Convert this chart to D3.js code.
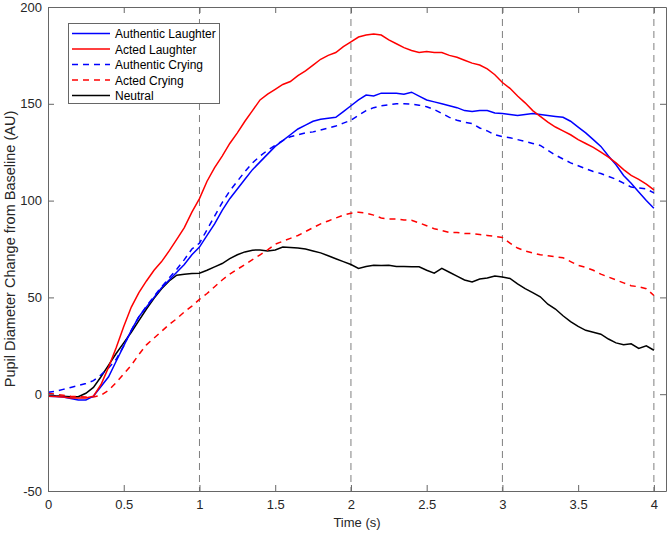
<!DOCTYPE html>
<html>
<head>
<meta charset="utf-8">
<script src="https://cdn.jsdelivr.net/npm/d3@7"></script>
<style>
  body { margin: 0; background: #fff; }
  text { font-family: "Liberation Sans", Arial, sans-serif; }
</style>
</head>
<body>
<div id="chart-area"></div>
<script>
// time base, 0 to 4 s in 0.05 s steps
var times = d3.range(0, 81).map(function(i){ return +(i * 0.05).toFixed(2); });

var authLaughter = [-1, -1.2, -1.5, -2.2, -3, -3, -1, 4, 9, 17,
  25, 33, 40, 45, 50, 55, 59, 63, 67, 72,
  76, 82, 88, 95, 101, 106, 111, 116, 120, 124,
  128, 131, 134, 137, 139, 141, 142, 142.5, 143, 146,
  149, 152, 154.5, 154, 155.5, 155.5, 155.5, 155, 156, 154,
  152, 151, 150, 149, 148, 146.5, 146, 146.5, 146.5, 145.3,
  145, 144.5, 144, 144.5, 145, 144.5, 144, 143.5, 143, 141,
  138, 135, 131.5, 128, 123, 118.5, 113, 109, 104.5, 100, 96];

var actedLaughter = [-1, -1.2, -1.5, -2, -2, -2, -1, 5, 14, 24,
  35, 45, 52.5, 58.5, 64, 68.5, 74, 80, 86, 94,
  101, 110, 117, 123, 129.5, 135, 141, 146.5, 152, 155,
  157.5, 160, 161.5, 164.5, 167, 170, 173, 175, 176.5, 179.5,
  182, 184.5, 185.5, 186, 185.5, 183, 181, 179, 177.5, 176.5,
  177, 176.5, 176.5, 175, 174, 172.5, 171, 170, 168, 165,
  161, 158, 154, 150.5, 146.5, 143.5, 140.5, 138, 136, 134,
  131.5, 129.5, 127.5, 125, 122.5, 119.5, 116, 113, 111, 108.5, 105.5];

var authCrying = [1, 1.5, 2.5, 3.5, 4.5, 5.5, 7, 10, 13.5, 18,
  25, 33, 40, 45.5, 50.5, 55.5, 60, 64.5, 69.5, 75,
  78, 85, 92, 99, 105, 110, 115, 119.5, 123, 126,
  128.6, 131, 133, 134, 135, 135.5, 136.5, 137.5, 138.5, 140,
  141.5, 144, 146.5, 148, 149, 149.5, 150, 150, 149.8, 149.3,
  148.5, 147, 145, 143, 141.5, 140.5, 139.8, 137.5, 136, 134,
  133, 132.5, 131.5, 130.5, 129.5, 128.5, 126, 123.5, 121.5, 119.5,
  118, 116.5, 115, 114, 112.5, 111, 109, 107, 106.5, 106, 104];

var actedCrying = [0.5, 0, -0.5, -1, -1.2, -1.5, -1.4, -0.5, 2, 6,
  10.5, 15, 20.5, 25.5, 29, 32.5, 36, 39, 42.5, 45.5,
  49, 52, 55.5, 59, 62, 64.5, 67, 69.5, 72, 74.5,
  77.5, 79, 80.5, 82, 84, 86, 88, 89.5, 91, 92.5,
  93.5, 94, 93.5, 92.5, 91, 90.5, 90.5, 90, 89.8, 88.5,
  87, 85.5, 84.5, 83.5, 83.5, 83, 83, 82.5, 82, 81.5,
  81, 78, 75.5, 74, 73, 72, 71.5, 71, 70.5, 68.5,
  66.5, 65.5, 64, 62, 60.5, 59, 57.5, 56, 55.5, 54.5, 51];

var neutral = [-0.5, -0.8, -1, -1.3, -1.3, 0.5, 3.5, 9, 15, 21,
  26.5, 32, 38, 44, 49.5, 54.5, 58.5, 61.5, 62, 62.3,
  62.5, 64, 65.8, 67.5, 70, 72, 73.5, 74.4, 74.5, 74,
  74.5, 76, 75.8, 75.5, 75, 74, 73, 71.5, 70, 68.5,
  67, 65, 66, 66.6, 66.5, 66.6, 66, 66, 65.8, 65.8,
  64, 62.5, 65, 63, 61, 59, 58, 59.5, 60, 61,
  60.5, 59.8, 57, 54.5, 52.5, 50.3, 46.5, 44, 40.5, 37.5,
  35, 33, 32, 31, 28.5, 26.5, 25.5, 26, 23.6, 25, 22.7];

var seriesNames = ["Authentic Laughter", "Acted Laughter", "Authentic Crying", "Acted Crying", "Neutral"];
var seriesValues = [authLaughter, actedLaughter, authCrying, actedCrying, neutral];
var seriesColors = ["#0000ff", "#ff0000", "#0000ff", "#ff0000", "#000000"];
var seriesDashed = [false, false, true, true, false];

var xTicks = [0, 0.5, 1, 1.5, 2, 2.5, 3, 3.5, 4];
var yTicks = [-50, 0, 50, 100, 150, 200];
var markerTimes = [1, 2, 3, 4];

var width = 668, height = 535;
var plotLeft = 48, plotRight = 666, plotTop = 7, plotBottom = 491;

var svg = d3.select("#chart-area").append("svg")
    .attr("width", width)
    .attr("height", height);

var x = d3.scaleLinear().domain([0, 4.08]).range([plotLeft, plotRight]);
var y = d3.scaleLinear().domain([-50, 200]).range([plotBottom, plotTop]);

// vertical dashed markers
svg.selectAll(".marker")
    .data(markerTimes)
    .enter()
    .append("line")
        .attr("x1", function(d){ return x(d); })
        .attr("x2", function(d){ return x(d); })
        .attr("y1", plotTop)
        .attr("y2", plotBottom)
        .attr("stroke", "#7f7f7f")
        .attr("stroke-width", 1)
        .attr("stroke-dasharray", "7,5");

// data lines
var line = d3.line()
    .x(function(d, i){ return x(times[i]); })
    .y(function(d){ return y(d); });

var drawOrder = [4, 3, 2, 0, 1];
drawOrder.forEach(function(k){
    svg.append("path")
        .datum(seriesValues[k])
        .attr("d", line)
        .attr("fill", "none")
        .attr("stroke", seriesColors[k])
        .attr("stroke-width", 1.5)
        .attr("stroke-dasharray", seriesDashed[k] ? "6,5" : null);
});

// axes, ticks pointing inward, box on all sides
var axisColor = "#666666";
var bottomAxis = d3.axisBottom(x).tickValues(xTicks).tickSizeInner(-6).tickSizeOuter(0)
    .tickFormat(function(d){ return d; }).tickPadding(9);
var topAxis = d3.axisTop(x).tickValues(xTicks).tickSizeInner(-6).tickSizeOuter(0).tickFormat("");
var leftAxis = d3.axisLeft(y).tickValues(yTicks).tickSizeInner(-6).tickSizeOuter(0)
    .tickFormat(function(d){ return d; }).tickPadding(6);
var rightAxis = d3.axisRight(y).tickValues(yTicks).tickSizeInner(-6).tickSizeOuter(0).tickFormat("");

function styleAxis(g){
    g.select(".domain").attr("stroke", axisColor);
    g.selectAll(".tick line").attr("stroke", axisColor);
    g.selectAll(".tick text")
        .attr("fill", "#262626")
        .attr("font-size", "13px")
        .attr("font-family", "'Liberation Sans', Arial, sans-serif");
}

svg.append("g").attr("transform", "translate(0," + plotBottom + ")").call(bottomAxis).call(styleAxis);
svg.append("g").attr("transform", "translate(0," + plotTop + ")").call(topAxis).call(styleAxis);
svg.append("g").attr("transform", "translate(" + plotLeft + ",0)").call(leftAxis).call(styleAxis);
svg.append("g").attr("transform", "translate(" + plotRight + ",0)").call(rightAxis).call(styleAxis);

// axis titles
svg.append("text")
    .attr("x", (plotLeft + plotRight) / 2)
    .attr("y", 527)
    .attr("text-anchor", "middle")
    .attr("font-size", "13px")
    .attr("fill", "#262626")
    .text("Time (s)");

svg.append("text")
    .attr("transform", "translate(15," + ((plotTop + plotBottom) / 2) + ") rotate(-90)")
    .attr("text-anchor", "middle")
    .attr("font-size", "14.5px")
    .attr("fill", "#262626")
    .text("Pupil Diameter Change from Baseline (AU)");

// legend
var legend = svg.append("g");
legend.append("rect")
    .attr("x", 68.5).attr("y", 23.5)
    .attr("width", 151).attr("height", 80)
    .attr("fill", "white")
    .attr("stroke", "#666666")
    .attr("stroke-width", 1);

var items = legend.selectAll(".item")
    .data(seriesNames)
    .enter()
    .append("g")
        .attr("transform", function(d, i){ return "translate(0," + (33.5 + i * 15.5) + ")"; });

items.append("line")
    .attr("x1", 72).attr("x2", 110)
    .attr("y1", 0).attr("y2", 0)
    .attr("stroke", function(d, i){ return seriesColors[i]; })
    .attr("stroke-width", 1.5)
    .attr("stroke-dasharray", function(d, i){ return seriesDashed[i] ? "6,5" : null; });

items.append("text")
    .attr("x", 115)
    .attr("y", 4.5)
    .attr("font-size", "12px")
    .attr("fill", "#000")
    .text(function(d){ return d; });
</script>
</body>
</html>
